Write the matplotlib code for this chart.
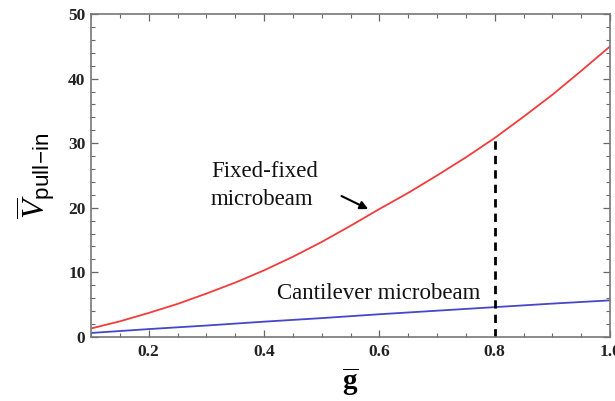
## pull-in voltage vs normalized gap, fixed-fixed and cantilever microbeams
import numpy as np
import matplotlib.pyplot as plt
from matplotlib.ticker import MultipleLocator

plt.rcParams['font.family'] = ['Liberation Serif', 'DejaVu Serif']
plt.rcParams['mathtext.fontset'] = 'custom'
plt.rcParams['mathtext.rm'] = 'Liberation Serif'
plt.rcParams['mathtext.it'] = 'Liberation Serif:italic'
plt.rcParams['mathtext.bf'] = 'Liberation Serif:bold'
plt.rcParams['mathtext.sf'] = 'Liberation Sans'

## data
g_ff = [0.10, 0.15, 0.20, 0.25, 0.30, 0.35, 0.40, 0.45, 0.50, 0.55,
        0.60, 0.65, 0.70, 0.75, 0.80, 0.85, 0.90, 0.95, 1.00]
v_ff = [1.3, 2.4, 3.7, 5.1, 6.7, 8.4, 10.3, 12.4, 14.7, 17.2,
        19.8, 22.3, 25.0, 27.8, 30.8, 34.1, 37.5, 41.2, 45.0]
g_cl = [0.1, 0.2, 0.3, 0.4, 0.5, 0.6, 0.7, 0.8, 0.9, 1.0]
v_cl = [0.6, 1.2, 1.75, 2.35, 2.9, 3.5, 4.05, 4.6, 5.15, 5.65]
g_mark = 0.8
v_mark = 30.8

fig = plt.figure(figsize=(6.15, 4.01), dpi=100)
ax = fig.add_axes([0.148, 0.160, 0.844, 0.805])

ax.plot(g_ff, v_ff, color='#f23c3c', lw=1.3)
ax.plot(g_cl, v_cl, color='#4646c8', lw=1.3)
ax.plot([g_mark, g_mark], [0, v_mark], color='black', lw=2.0, ls=(0, (3, 2.2)))

ax.set_xlim(0.1, 1.0)
ax.set_ylim(0, 50)
ax.xaxis.set_major_locator(MultipleLocator(0.2))
ax.xaxis.set_minor_locator(MultipleLocator(0.05))
ax.yaxis.set_major_locator(MultipleLocator(10))
ax.yaxis.set_minor_locator(MultipleLocator(2))
ax.set_xticks([0.2, 0.4, 0.6, 0.8, 1.0])
ax.set_xticklabels(['0.2', '0.4', '0.6', '0.8', '1.0'])
ax.tick_params(which='both', direction='in', top=True, right=True,
               color='#666666', labelsize=12.5, labelcolor='#222222')
ax.tick_params(which='major', length=5, width=0.9)
ax.tick_params(which='minor', length=3, width=0.8)
ax.tick_params(axis='x', which='major', pad=5)
ax.tick_params(axis='y', which='major', pad=4)
for lab in ax.get_xticklabels() + ax.get_yticklabels():
    lab.set_fontweight('bold')
for s in ax.spines.values():
    s.set_color('#777777')
    s.set_linewidth(1.2)

ax.set_xlabel(r'$\mathbf{\overline{g}}$', fontsize=21, labelpad=4)
ax.set_ylabel(r'$\overline{V}_{\mathsf{pull\!-\!in}}$', fontsize=23, labelpad=8)

ax.text(0.308, 23.5, 'Fixed-fixed\nmicrobeam', fontsize=16.5, linespacing=1.45,
        ha='left', va='center', color='#111111')
ax.text(0.422, 6.7, 'Cantilever microbeam', fontsize=16.5,
        ha='left', va='center', color='#111111')
ax.annotate('', xy=(0.585, 19.6), xytext=(0.53, 22.0),
            arrowprops=dict(arrowstyle='-|>', color='black', lw=1.5,
                            mutation_scale=12))

fig.savefig('out.png', dpi=100)
